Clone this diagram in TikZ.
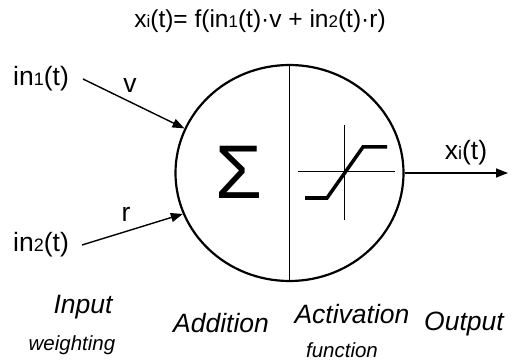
\documentclass[tikz,border=0pt]{standalone}
\usepackage{fontspec}
\setmainfont{Liberation Sans}
\usetikzlibrary{arrows.meta,shapes.geometric}
\newcommand\subsz[2]{{\fontsize{#1}{#1}\selectfont #2}}
\begin{document}
\begin{tikzpicture}[x=1pt,y=-1pt,
  arr/.style={line width=1.4pt,-{Triangle[length=12pt,width=9pt]}},
  lbl/.style={inner sep=0,font=\fontsize{26.5}{30}\selectfont},
  ttl/.style={inner sep=0,font=\fontsize{24.5}{28}\selectfont},
  captext/.style={inner sep=0,font=\fontsize{26.5}{30}\selectfont\itshape},
  smallcaptext/.style={inner sep=0,font=\fontsize{20.5}{24}\selectfont\itshape},
  axisline/.style={line width=1pt},
  curveline/.style={line width=3.5pt}]
\useasboundingbox (0,0) rectangle (515,361);
\node[ttl] (title) at (260,21) {x\subsz{17}{i}(t)= f(in\subsz{17}{1}(t)·v + in\subsz{17}{2}(t)·r)};
\node[ellipse, draw, line width=2.2pt, minimum width=228pt, minimum height=216pt, inner sep=0] (neuron) at (289.5,173) {};
\draw[line width=1.3pt] (neuron.north) -- (neuron.south);
\node[inner sep=0, font=\fontsize{76}{76}\selectfont] (sigma) at (239,172) {Σ};
\draw[axisline] (298,172) -- (395,172);
\draw[axisline] (344,125) -- (344,220);
\draw[curveline] (305,198) -- (327,198) -- (363,147) -- (387,147);
\node[lbl, anchor=west] (in1) at (13,79) {in\subsz{18}{1}(t)};
\node[lbl, anchor=west] (in2) at (13,245) {in\subsz{18}{2}(t)};
\coordinate (s1) at (83,79);
\coordinate (s2) at (82,245);
\draw[arr] (s1) -- (neuron.157);
\draw[arr] (s2) -- (neuron.201);
\node[lbl] (v) at (130,86) {v};
\node[lbl] (r) at (126,214) {r};
\coordinate (o) at (508,173);
\draw[arr] (neuron.east) -- (o);
\node[lbl] (xout) at (466,153) {x\subsz{18}{i}(t)};
\node[captext] (input) at (83,307) {Input};
\node[smallcaptext] (weighting) at (72,345) {weighting};
\node[captext] (addition) at (221,323) {Addition};
\node[captext] (activation) at (352,314) {Activation};
\node[smallcaptext] (function) at (342,350) {function};
\node[captext] (output) at (464,324) {Output};
\end{tikzpicture}
\end{document}
